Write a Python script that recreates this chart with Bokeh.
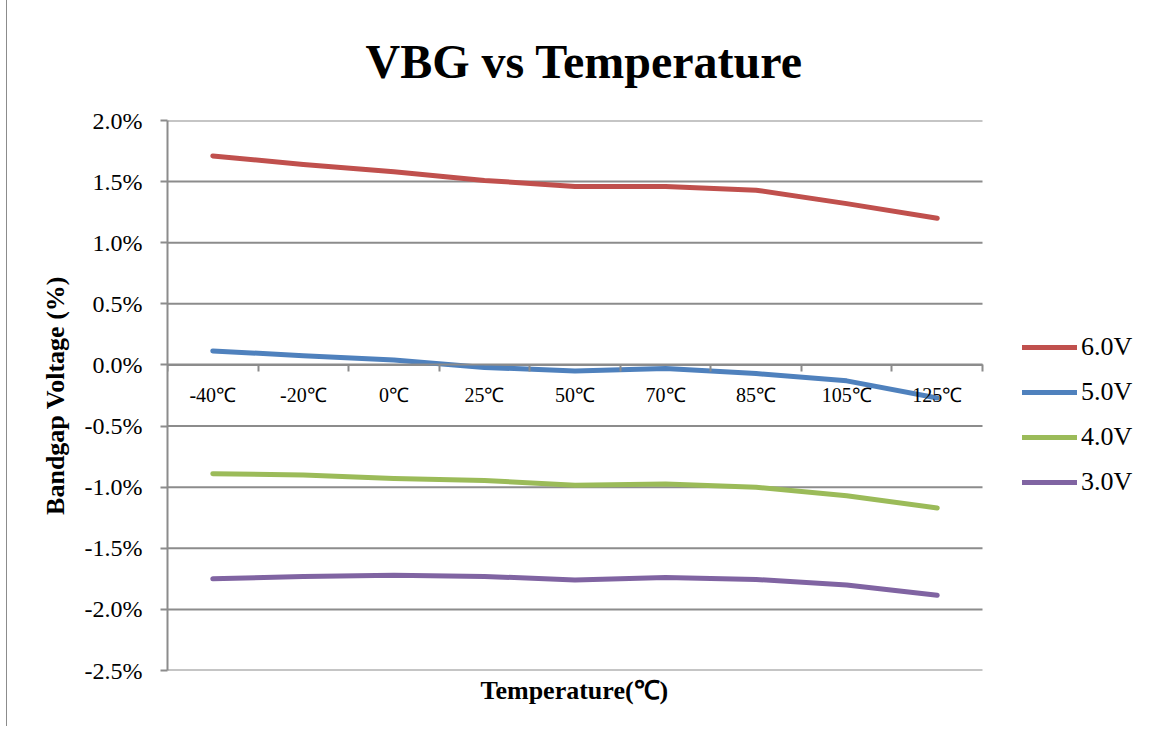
from bokeh.plotting import figure
from bokeh.models import (Range1d, LinearAxis, FixedTicker, PrintfTickFormatter,
                          Legend, LegendItem, Title)
from bokeh.embed import file_html
from bokeh.resources import INLINE

categories = ["-40℃", "-20℃", "0℃", "25℃", "50℃", "70℃", "85℃", "105℃", "125℃"]
series_names = ["6.0V", "5.0V", "4.0V", "3.0V"]
v60 = [1.71, 1.64, 1.58, 1.51, 1.46, 1.46, 1.43, 1.32, 1.20]
v50 = [0.115, 0.075, 0.04, -0.02, -0.05, -0.03, -0.07, -0.13, -0.27]
v40 = [-0.89, -0.90, -0.93, -0.945, -0.985, -0.975, -1.00, -1.07, -1.17]
v30 = [-1.75, -1.73, -1.72, -1.73, -1.76, -1.74, -1.755, -1.80, -1.885]
colors = ["#C0504D", "#4F81BD", "#9BBB59", "#8064A2"]
y_ticks = [-2.5, -2.0, -1.5, -1.0, -0.5, 0.0, 0.5, 1.0, 1.5, 2.0]

FONT = "Liberation Serif"
GRID = "#8c8c8c"

n = len(categories)
xs = [i + 0.5 for i in range(n)]

# frame spans to the right edge so the legend (outside the plotted area) is drawn
FRAME_W = 974      # pixels of the frame
PLOT_W = 815       # pixels of the category area
x_end = n * FRAME_W / PLOT_W

p = figure(width=1134, height=728, output_backend="svg", toolbar_location=None,
           x_range=Range1d(0, x_end), y_range=Range1d(-2.5, 2.0),
           x_axis_type=None, y_axis_type=None,
           min_border_left=160, min_border_right=0, min_border_top=0,
           min_border_bottom=57)
p.outline_line_color = None
p.background_fill_color = "white"
p.border_fill_color = "white"
p.styles = {"margin": "-2px 0px 0px 6px",
            "border-left": "1px solid #8c8c8c", "border-top": "1px solid #8c8c8c"}

# title
t = Title(text="VBG  vs Temperature", align="left", offset=198, text_font=FONT,
          text_font_size="48px", text_font_style="bold", text_color="black",
          standoff=66)
p.add_layout(t, "above")

# horizontal gridlines over the category area only
p.segment(x0=[0] * len(y_ticks), x1=[n] * len(y_ticks), y0=y_ticks, y1=y_ticks,
          line_color=GRID, line_width=2)

# y axis
yax = LinearAxis(ticker=FixedTicker(ticks=y_ticks),
                 formatter=PrintfTickFormatter(format="%.1f%%"))
yax.axis_line_color = GRID
yax.axis_line_width = 2
yax.major_tick_line_color = GRID
yax.major_tick_line_width = 2
yax.major_tick_out = 7
yax.major_tick_in = 0
yax.minor_tick_line_color = None
yax.major_label_text_font = FONT
yax.major_label_text_font_size = "24px"
yax.major_label_text_color = "black"
yax.major_label_standoff = 18
yax.axis_label = "Bandgap Voltage (%)"
yax.axis_label_text_font = FONT
yax.axis_label_text_font_size = "26px"
yax.axis_label_text_font_style = "bold"
yax.axis_label_text_color = "black"
yax.axis_label_standoff = 12
p.add_layout(yax, "left")

# x axis crossing at zero: tick marks between categories
xticks_ax = LinearAxis(ticker=FixedTicker(ticks=list(range(n + 1))),
                       fixed_location=0, bounds=(0, n))
xticks_ax.axis_line_color = GRID
xticks_ax.axis_line_width = 2
xticks_ax.major_tick_line_color = GRID
xticks_ax.major_tick_line_width = 2
xticks_ax.major_tick_out = 7
xticks_ax.major_tick_in = 0
xticks_ax.minor_tick_line_color = None
xticks_ax.major_label_text_font_size = "0px"
xticks_ax.major_label_text_color = None
p.add_layout(xticks_ax, "below")

# category labels
xlab_ax = LinearAxis(ticker=FixedTicker(ticks=xs), fixed_location=0,
                     major_label_overrides={x: c for x, c in zip(xs, categories)})
xlab_ax.axis_line_color = None
xlab_ax.major_tick_line_color = None
xlab_ax.major_tick_out = 0
xlab_ax.major_tick_in = 0
xlab_ax.minor_tick_line_color = None
xlab_ax.major_label_text_font = FONT
xlab_ax.major_label_text_font_size = "20px"
xlab_ax.major_label_text_color = "black"
xlab_ax.major_label_standoff = 19
p.add_layout(xlab_ax, "below")

# x axis title
xt = Title(text="Temperature(℃)", align="left", offset=313, text_font=FONT,
           text_font_size="26px", text_font_style="bold", text_color="black",
           standoff=6)
p.add_layout(xt, "below")

items = []
for name, vals, col in zip(series_names, [v60, v50, v40, v30], colors):
    r = p.line(xs, vals, line_color=col, line_width=5, line_cap="round",
               line_join="round")
    items.append(LegendItem(label=name, renderers=[r]))

legend = Legend(items=items, location=(855, 173), orientation="vertical",
                glyph_width=55, glyph_height=20, label_height=20, spacing=15,
                label_standoff=4, padding=0, margin=0,
                border_line_color=None, background_fill_alpha=0,
                label_text_font=FONT, label_text_font_size="26px",
                label_text_color="black")
p.add_layout(legend, "center")

open("out.html", "w").write(file_html(p, INLINE))
